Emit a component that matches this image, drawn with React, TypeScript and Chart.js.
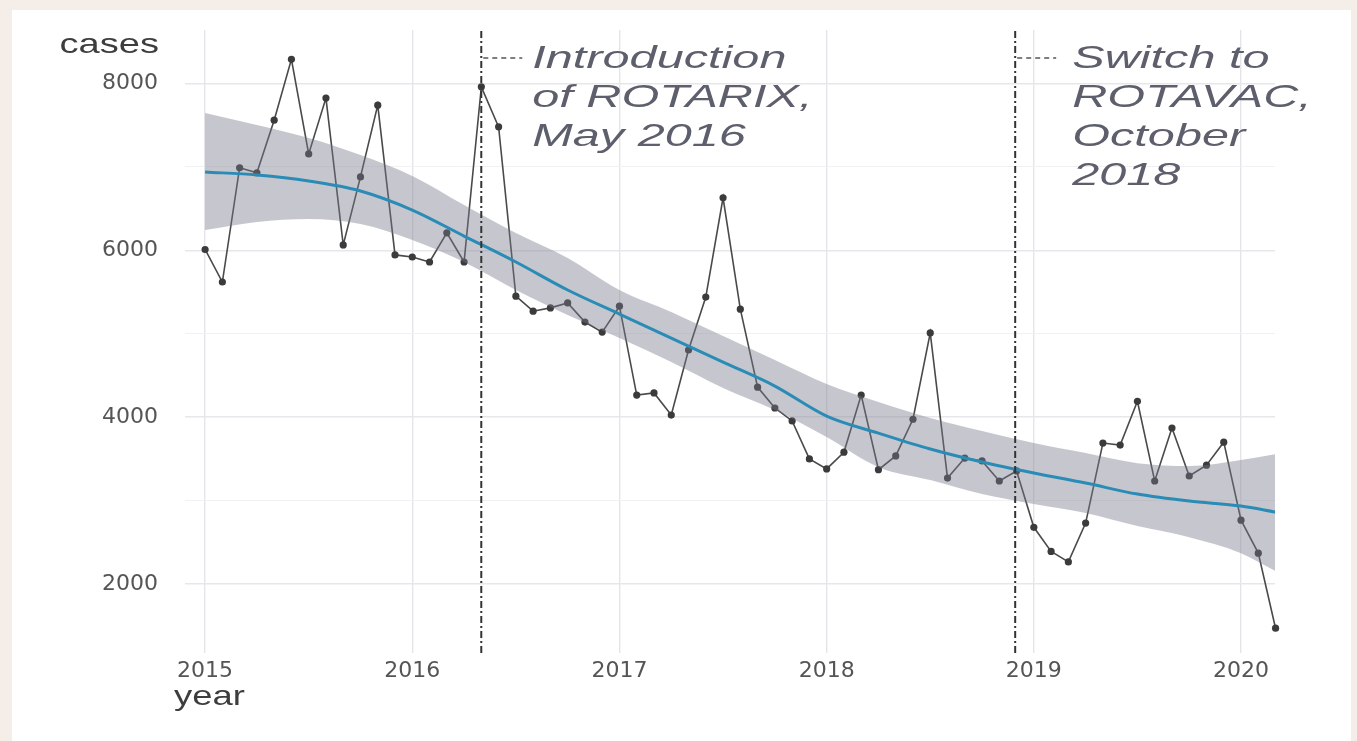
import React, { useEffect, useRef } from "react";
import { Chart, registerables } from "chart.js";

Chart.register(...registerables);

// ---- data ----
const START_YEAR = 2015;
// monthly cases, Jan 2015 .. Mar 2020
const monthlyCases = [
  6010, 5620, 6990, 6930, 7560, 8290, 7155, 7825, 6065, 6880, 7740, 5945,
  5920, 5860, 6210, 5860, 7960, 7480, 5450, 5270, 5310, 5370, 5140, 5020,
  5330, 4265, 4290, 4025, 4805, 5440, 6630, 5295, 4360, 4110, 3955, 3500,
  3380, 3580, 4265, 3370, 3535, 3975, 5010, 3270, 3510, 3475, 3235, 3355,
  2680, 2390, 2265, 2730, 3690, 3665, 4190, 3235, 3870, 3295, 3425, 3700,
  2765, 2370, 1470,
];

const trendYears = [
  2015, 2015.25, 2015.5, 2015.75, 2016, 2016.25, 2016.5, 2016.75, 2017, 2017.25,
  2017.5, 2017.75, 2018, 2018.25, 2018.5, 2018.75, 2019, 2019.25, 2019.5, 2019.75,
  2020, 2020.167,
];
const trendFit = [
  6939, 6903, 6831, 6711, 6483, 6171, 5860, 5524, 5236, 4948,
  4660, 4373, 4013, 3809, 3618, 3462, 3330, 3210, 3078, 2994,
  2934, 2862,
];
const trendUpper = [
  7646, 7502, 7347, 7143, 6891, 6543, 6207, 5908, 5524, 5260,
  4972, 4684, 4397, 4181, 3989, 3833, 3689, 3569, 3449, 3414,
  3486, 3558,
];
const trendLower = [
  6243, 6339, 6375, 6315, 6124, 5860, 5524, 5224, 4948, 4660,
  4349, 4085, 3761, 3401, 3246, 3078, 2958, 2850, 2694, 2562,
  2370, 2154,
];

const yearTicks = [2015, 2016, 2017, 2018, 2019, 2020];
const caseTicks = [2000, 3000, 4000, 5000, 6000, 7000, 8000];
const labeledCaseTicks = [2000, 4000, 6000, 8000];

const eventYears = [2016.333, 2018.91];
const eventLabels = [
  ["Introduction", "of ROTARIX,", "May 2016"],
  ["Switch to", "ROTAVAC,", "October", "2018"],
];

const X_MIN = 2014.903;
const X_MAX = 2020.164;
const Y_MIN = 1173;
const Y_MAX = 8641;

const TICK_FONT = { family: "DejaVu Sans", size: 22 };

const framePlugin = {
  id: "frame",
  beforeDraw(chart: any) {
    const { ctx, width, height } = chart;
    ctx.save();
    ctx.fillStyle = "#f5eee8";
    ctx.fillRect(0, 0, width, height);
    ctx.fillStyle = "#ffffff";
    ctx.fillRect(12, 10, width - 18, height - 10);
    ctx.restore();
  },
  afterDraw(chart: any) {
    const { ctx } = chart;
    const xs = chart.scales.x;
    const textOffsets = [51, 57];

    ctx.save();
    eventYears.forEach((yr, k) => {
      const xp = xs.getPixelForValue(yr);
      ctx.setLineDash([5, 4]);
      ctx.strokeStyle = "#555";
      ctx.lineWidth = 1.5;
      ctx.beginPath();
      ctx.moveTo(xp + 2, 58);
      ctx.lineTo(xp + 41, 58);
      ctx.stroke();
      ctx.setLineDash([]);

      ctx.fillStyle = "#5d606c";
      ctx.font = 'italic 32px "Liberation Sans"';
      ctx.textAlign = "left";
      ctx.textBaseline = "alphabetic";
      eventLabels[k].forEach((line, li) => {
        ctx.save();
        ctx.translate(xp + textOffsets[k], 68 + li * 39);
        ctx.scale(1.52, 1);
        ctx.fillText(line, 0, 0);
        ctx.restore();
      });
    });

    ctx.fillStyle = "#3d3d3d";
    ctx.font = '28px "Liberation Sans"';
    ctx.save();
    ctx.translate(159, 53);
    ctx.scale(1.36, 1);
    ctx.textAlign = "right";
    ctx.fillText("cases", 0, 0);
    ctx.restore();

    ctx.save();
    ctx.translate(174, 705);
    ctx.scale(1.3, 1);
    ctx.textAlign = "left";
    ctx.fillText("year", 0, 0);
    ctx.restore();

    ctx.restore();
  },
};

export default function App() {
  const canvasRef = useRef<HTMLCanvasElement | null>(null);

  useEffect(() => {
    document.body.style.margin = "0";
    const canvas = canvasRef.current;
    if (!canvas) return;

    const eventDatasets = eventYears.map((yr) => ({
      label: "event",
      data: [
        { x: yr, y: Y_MIN },
        { x: yr, y: Y_MAX },
      ],
      borderColor: "#333333",
      borderWidth: 2,
      borderDash: [7, 3, 2, 3],
      pointRadius: 0,
      fill: false,
      order: 1,
    }));

    const chart = new Chart(canvas, {
      type: "line",
      data: {
        datasets: [
          {
            label: "cases",
            data: monthlyCases.map((v, i) => ({ x: START_YEAR + i / 12, y: v })),
            borderColor: "#4a4a4a",
            borderWidth: 1.6,
            pointRadius: 3.6,
            pointBackgroundColor: "#3b3b3b",
            pointBorderWidth: 0,
            tension: 0,
            fill: false,
            clip: false,
            order: 4,
          } as any,
          {
            label: "lower",
            data: trendYears.map((x, i) => ({ x, y: trendLower[i] })),
            borderColor: "rgba(0,0,0,0)",
            borderWidth: 1,
            pointRadius: 0,
            fill: false,
            cubicInterpolationMode: "monotone",
            order: 3,
          },
          {
            label: "upper",
            data: trendYears.map((x, i) => ({ x, y: trendUpper[i] })),
            borderColor: "rgba(0,0,0,0)",
            borderWidth: 1,
            pointRadius: 0,
            fill: "-1",
            backgroundColor: "rgba(120,122,138,0.42)",
            cubicInterpolationMode: "monotone",
            order: 3,
          },
          {
            label: "fit",
            data: trendYears.map((x, i) => ({ x, y: trendFit[i] })),
            borderColor: "#2a8cb6",
            borderWidth: 3,
            pointRadius: 0,
            fill: false,
            cubicInterpolationMode: "monotone",
            order: 2,
          },
          ...eventDatasets,
        ],
      },
      options: {
        animation: false,
        responsive: false,
        devicePixelRatio: 1,
        layout: { padding: { top: 30, right: 82, left: 0, bottom: 0 } },
        plugins: {
          legend: { display: false },
          tooltip: { enabled: false },
        },
        scales: {
          x: {
            type: "linear",
            min: X_MIN,
            max: X_MAX,
            afterBuildTicks: (axis: any) => {
              axis.ticks = yearTicks.map((v) => ({ value: v }));
            },
            afterFit: (axis: any) => {
              axis.height = 88;
              axis.paddingLeft = 0;
              axis.paddingRight = 0;
              axis.paddingTop = 0;
              axis.paddingBottom = 0;
            },
            ticks: {
              callback: (v: any) => String(v),
              font: TICK_FONT,
              color: "#555555",
              padding: 5,
              maxRotation: 0,
              autoSkip: false,
            },
            grid: { color: "#e5e5e9", lineWidth: 1.4, drawTicks: false },
            border: { display: false },
          },
          y: {
            type: "linear",
            min: Y_MIN,
            max: Y_MAX,
            afterBuildTicks: (axis: any) => {
              axis.ticks = caseTicks.map((v) => ({ value: v }));
            },
            afterFit: (axis: any) => {
              axis.width = 185;
              axis.paddingLeft = 0;
              axis.paddingRight = 0;
              axis.paddingTop = 0;
              axis.paddingBottom = 0;
            },
            ticks: {
              callback: (v: any) => (labeledCaseTicks.includes(Number(v)) ? String(v) : ""),
              font: TICK_FONT,
              color: "#555555",
              padding: 27,
              autoSkip: false,
            },
            grid: {
              color: (c: any) =>
                c.tick && labeledCaseTicks.includes(c.tick.value) ? "#e7e7eb" : "#f1f1f3",
              lineWidth: (c: any) =>
                c.tick && labeledCaseTicks.includes(c.tick.value) ? 1.4 : 1,
              drawTicks: false,
            },
            border: { display: false },
          },
        },
      } as any,
      plugins: [framePlugin],
    });

    return () => chart.destroy();
  }, []);

  return (
    <div style={{ width: 1357, height: 741, position: "relative" }}>
      <canvas ref={canvasRef} width={1357} height={741} style={{ display: "block" }} />
    </div>
  );
}
